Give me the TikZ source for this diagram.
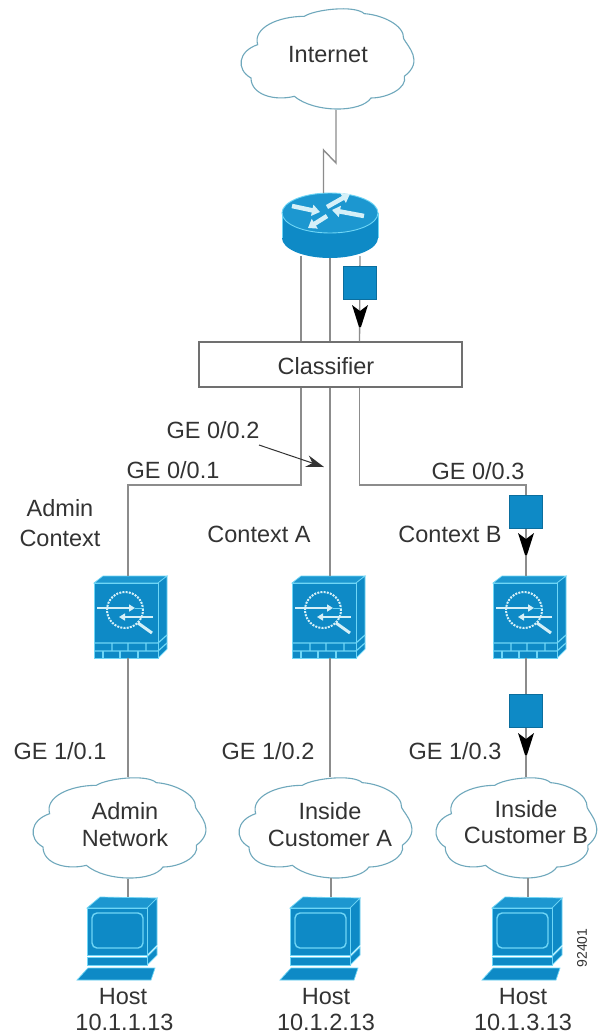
\documentclass[tikz,border=0pt]{standalone}
\usepackage{fontspec}
\setmainfont{Liberation Sans}
\usetikzlibrary{arrows.meta}
\definecolor{ciscoblue}{HTML}{0E8AC6}
\definecolor{ciscotop}{HTML}{1C97D0}
\definecolor{ciscolight}{HTML}{6FD6F6}
\definecolor{ciscopale}{HTML}{D5F0F8}
\definecolor{wire}{HTML}{8C8C8C}
\definecolor{cloudline}{HTML}{6FA8BC}
\definecolor{ink}{HTML}{333333}
\tikzset{
  link/.style={draw=wire,line width=1.4pt},
  thicklink/.style={draw=wire,line width=2.2pt},
  lbl/.style={text=ink,font=\fontsize{23.5}{23.5}\selectfont,inner sep=0pt,align=center},
  packet/.style={draw=ciscoblue!80!black,fill=ciscoblue,line width=.6pt,minimum width=33pt,minimum height=33pt,inner sep=0pt},
  cloudshape/.pic={
    \begin{scope}[x=0.3333pt,y=-0.3333pt,shift={(-97,-80)}]
    \draw[cloudline,fill=white,line width=1.1pt]
      (290,105) .. controls (320,85) and (440,70) .. (470,97)
      .. controls (520,100) and (590,130) .. (588,172)
      .. controls (600,195) and (650,240) .. (590,285)
      .. controls (600,320) and (540,350) .. (490,350)
      .. controls (460,395) and (320,395) .. (260,345)
      .. controls (200,360) and (130,340) .. (130,290)
      .. controls (85,265) and (90,210) .. (150,190)
      .. controls (135,140) and (210,105) .. (290,105) -- cycle;
    \coordinate (-top) at (383,80);
    \coordinate (-bottom) at (383,385);
    \end{scope}
  },
  firewall/.pic={
    \fill[ciscotop,draw=ciscolight,line width=.7pt] (0,0) -- (9,-7) -- (73,-7) -- (64,0) -- cycle;
    \fill[ciscoblue,draw=ciscolight,line width=.7pt] (64,0) -- (73,-7) -- (73,66) -- (64,75) -- cycle;
    \fill[ciscoblue,draw=ciscolight,line width=.7pt] (0,0) rectangle (64,75);
    \draw[ciscolight,line width=1.2pt] (0,60) -- (64,60) (0,68) -- (64,68)
      (18,60) -- (18,68) (34,60) -- (34,68) (52,60) -- (52,68)
      (64,68) -- (73,60) (64,60) -- (73,52);
    \draw[ciscolight,line width=1.1pt] (9,68) -- (9,75) (26,68) -- (26,75) (44,68) -- (44,75);
    \draw[ciscopale,line width=2pt,dash pattern=on 2pt off 1.2pt] (31,27) circle[radius=18pt];
    \draw[ciscopale,line width=3pt] (44,40) -- (58,50);
    \draw[ciscopale,line width=1.8pt,-{Triangle[length=6pt,width=7pt]}] (3,25) -- (41,25);
    \draw[ciscolight,line width=1pt] (41,25) -- (50,25);
    \draw[ciscopale,line width=1.8pt,-{Triangle[length=6pt,width=7pt]}] (59,34) -- (25,34);
    \coordinate (-top) at (34,-7);
    \coordinate (-bottom) at (34,75);
  },
  hostpc/.pic={
    \fill[ciscotop,draw=ciscolight,line width=.7pt] (0,0) -- (13,-11) -- (70,-10) -- (60,0) -- cycle;
    \fill[ciscoblue,draw=ciscolight,line width=.7pt] (60,0) -- (70,-10) -- (70,37) -- (60,47) -- cycle;
    \fill[ciscoblue,draw=ciscolight,line width=.7pt] (60,49) -- (70,39) -- (70,47) -- (60,57) -- cycle;
    \fill[ciscoblue,draw=ciscolight,line width=.7pt] (0,0) rectangle (60,47);
    \draw[ciscolight,line width=1.4pt,rounded corners=5pt] (5,5) rectangle (56,40);
    \fill[ciscoblue,draw=ciscolight,line width=.7pt] (0,49) rectangle (60,57);
    \fill[ciscoblue,draw=ciscolight,line width=.7pt] (-10,72) -- (64,72) -- (68,60) -- (1,60) -- cycle;
    \coordinate (-top) at (41,-11);
  },
  dart/.pic={
    \fill[black] (-8,0) -- (0,6) -- (8,0) -- (1,22) -- (-1,22) -- cycle;
  },
  routerpic/.pic={
    \fill[ciscoblue] (0,25) ellipse[x radius=48pt,y radius=20pt];
    \fill[ciscoblue] (-48,0) rectangle (48,25);
    \fill[ciscotop,draw=ciscolight,line width=.9pt] (0,0) ellipse[x radius=48pt,y radius=20pt];
    \draw[ciscolight,line width=.8pt] (-48,0) -- (-48,25) (48,0) -- (48,25);
    \draw[ciscopale,line width=4.5pt,-{Triangle[length=8pt,width=11pt]}] (-38,-7) -- (-10,-1);
    \draw[ciscopale,line width=4.5pt,-{Triangle[length=8pt,width=11pt]}] (-3,-6) -- (20,-19);
    \draw[ciscopale,line width=4.5pt,-{Triangle[length=8pt,width=11pt]}] (34,3) -- (2,-3);
    \draw[ciscopale,line width=4.5pt,-{Triangle[length=8pt,width=11pt]}] (-3,3) -- (-22,15);
    \coordinate (-top) at (0,-20);
    \coordinate (-bottom) at (0,45);
  }
}
\begin{document}
\begin{tikzpicture}[x=1pt,y=-1pt]
\useasboundingbox (0,0) rectangle (598,1036);
\clip (0,0) rectangle (598,1036);
\fill[white] (0,0) rectangle (598,1036);

% clouds
\pic (inet) at (240,8) {cloudshape};
\pic (cldAdmin) at (32,777) {cloudshape};
\pic (cldA) at (238,777) {cloudshape};
\pic (cldB) at (435,777) [xscale=0.93] {cloudshape};

% devices
\pic (router) at (330,213) {routerpic};
\pic (fwAdmin) at (94,583) {firewall};
\pic (fwA) at (292,583) {firewall};
\pic (fwB) at (493,583) {firewall};
\pic (hostAdmin) at (87,908) {hostpc};
\pic (hostA) at (290,908) {hostpc};
\pic (hostB) at (492,908) {hostpc};

% classifier and ports
\node[draw=wire!80!black,fill=white,line width=1.2pt,minimum width=263pt,minimum height=45pt,inner sep=0pt] (classifier) at (330.5,364.5) {};
\node[lbl] (classtext) at (326,366) {Classifier};
\coordinate (xL) at (301,0);
\coordinate (xM) at (330,0);
\coordinate (xR) at (359.5,0);
\coordinate (xAdmin) at (128,0);
\coordinate (xB) at (526,0);
\coordinate (bendL) at (301,485);
\coordinate (bendR) at (359.5,485);
\coordinate (zig1) at (336,163);
\coordinate (zig2) at (323.5,150);

% WAN link
\draw[link] (336,110) -- (zig1) -- (zig2) -- (323.5,193);

% router to classifier
\draw[thicklink] (301,256) -- (xL |- classifier.north);
\draw[link] (xM |- router-bottom) -- (xM |- classifier.north);
\draw[link] (360,256) -- (xR |- classifier.north);
\node[packet] (pkt1) at (359.5,283) {};
\pic at (360,305) {dart};

% classifier to contexts
\draw[link] (xL |- classifier.south) -- (bendL) -- (xAdmin |- bendL) -- (xAdmin |- fwAdmin-top);
\draw[link] (xM |- classifier.south) -- (xM |- fwA-top);
\draw[link] (xR |- classifier.south) -- (bendR) -- (xB |- bendR) -- (xB |- fwB-top);
\node[packet] (pkt2) at (526,511.5) {};
\pic at (526,533) {dart};

% contexts to clouds
\draw[link] (xAdmin |- fwAdmin-bottom) -- (xAdmin |- cldAdmin-top);
\draw[link] (xM |- fwA-bottom) -- (xM |- cldA-top);
\draw[link] (xB |- fwB-bottom) -- (xB |- cldB-top);
\node[packet] (pkt3) at (526,711) {};
\pic at (526,733) {dart};

% clouds to hosts
\draw[link] (xAdmin |- cldAdmin-bottom) -- (xAdmin |- hostAdmin-top);
\draw[link] (331,878) -- (331,897);
\draw[link] (528,878) -- (528,897);

% labels
\node[lbl] (tInternet) at (328,55) {Internet};
\node[lbl] (tAdmCtx1) at (60,508) {Admin};
\node[lbl] (tAdmCtx2) at (60,538) {Context};
\node[lbl] (tCtxA) at (259,534) {Context A};
\node[lbl] (tCtxB) at (450,534) {Context B};
\node[lbl] (tGE02) at (213,430) {GE 0/0.2};
\node[lbl] (tGE01) at (173,470) {GE 0/0.1};
\node[lbl] (tGE03) at (478,471) {GE 0/0.3};
\node[lbl] (tGE11) at (60,751) {GE 1/0.1};
\node[lbl] (tGE12) at (268,751) {GE 1/0.2};
\node[lbl] (tGE13) at (455,751) {GE 1/0.3};
\node[lbl] (tAdm1) at (125,811) {Admin};
\node[lbl] (tAdm2) at (125,838) {Network};
\node[lbl] (tCustA1) at (330,811) {Inside};
\node[lbl] (tCustA2) at (330,838) {Customer A};
\node[lbl] (tCustB1) at (526,809) {Inside};
\node[lbl] (tCustB2) at (526,835) {Customer B};
\node[lbl] (tHostAdm1) at (123,997) {Host};
\node[lbl] (tHostAdm2) at (124.5,1022) {10.1.1.13};
\node[lbl] (tHostA1) at (326,997) {Host};
\node[lbl] (tHostA2) at (326,1022) {10.1.2.13};
\node[lbl] (tHostB1) at (523,997) {Host};
\node[lbl] (tHostB2) at (523,1022) {10.1.3.13};
\node[lbl,font=\fontsize{14}{14}\selectfont,rotate=90] (tRef) at (582,948) {92401};

% pointer for GE 0/0.2
\coordinate (ptrEnd) at (324,467);
\draw[draw=ink,line width=1pt,-{Stealth[length=18pt,width=12pt]}] (259,445) -- (ptrEnd);
\end{tikzpicture}
\end{document}
